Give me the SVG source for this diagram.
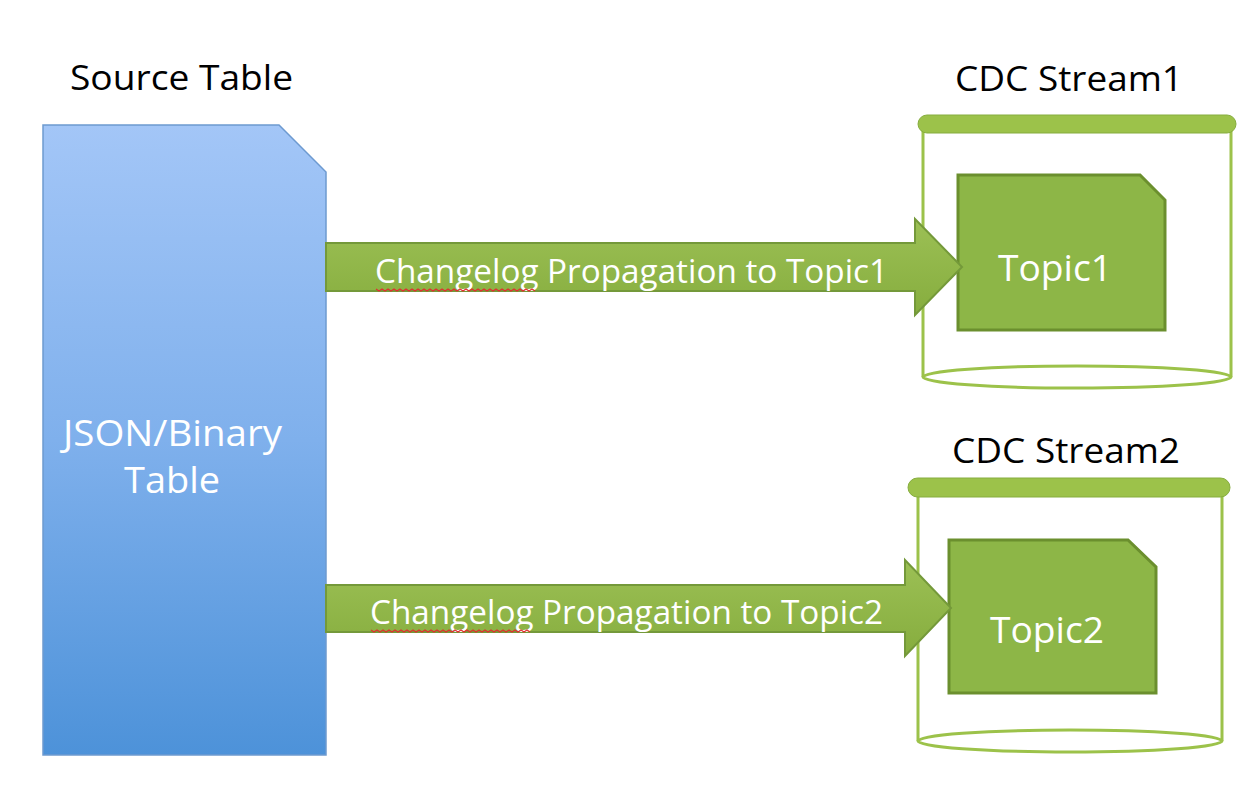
<svg xmlns="http://www.w3.org/2000/svg" width="1251" height="800" viewBox="0 0 1251 800">
<defs>
<linearGradient id="blue" x1="0" y1="0" x2="0" y2="1">
<stop offset="0" stop-color="#a3c6f7"/>
<stop offset="0.5" stop-color="#7fb0ec"/>
<stop offset="1" stop-color="#4d92d9"/>
</linearGradient>
<linearGradient id="green" x1="0" y1="0" x2="0" y2="1">
<stop offset="0" stop-color="#9cc055"/>
<stop offset="1" stop-color="#86ad3e"/>
</linearGradient>
<style>
.lbl{font-family:"Open Sans","Liberation Sans",sans-serif;fill:#000;font-size:34px}
.wt{font-family:"Open Sans","Liberation Sans",sans-serif;fill:#fff}
.arrow{fill:url(#green);stroke:#74993a;stroke-width:2}
.cyl{fill:none;stroke:#9cc24a;stroke-width:3}
.topic{fill:#8db647;stroke:#6b8f2e;stroke-width:3}
</style>
</defs>
<rect width="1251" height="800" fill="#fff"/>
<text class="lbl" x="70" y="90" textLength="223" lengthAdjust="spacingAndGlyphs">Source Table</text>
<text class="lbl" x="955" y="91" textLength="228" lengthAdjust="spacingAndGlyphs">CDC Stream1</text>
<text class="lbl" x="952" y="463" textLength="228" lengthAdjust="spacingAndGlyphs">CDC Stream2</text>

<g id="source-table">
<path d="M43,125 H279 L326,172 V755 H43 Z" fill="url(#blue)" stroke="#6d9ad0" stroke-width="1.5"/>
<text class="wt" x="63" y="446" font-size="37" textLength="219" lengthAdjust="spacingAndGlyphs">JSON/Binary</text>
<text class="wt" x="124" y="493" font-size="37" textLength="96" lengthAdjust="spacingAndGlyphs">Table</text>
</g>

<g id="cdc-stream1">
<path class="cyl" d="M923,130 V377 M1231,130 V377"/>
<ellipse cx="1077" cy="377" rx="154" ry="11" class="cyl"/>
<rect x="918" y="115" width="318" height="18" rx="9" fill="#9cc24a" stroke="#86ad3e" stroke-width="1"/>
</g>
<g id="topic1">
<path class="topic" d="M958,175 H1140 L1165,200 V330 H958 Z"/>
<text class="wt" x="998" y="281" font-size="37" textLength="114" lengthAdjust="spacingAndGlyphs">Topic1</text>
</g>

<g id="cdc-stream2">
<path class="cyl" d="M918,492 V741 M1222,492 V741"/>
<ellipse cx="1070" cy="741" rx="152" ry="11" class="cyl"/>
<rect x="908" y="478" width="322" height="19" rx="9.5" fill="#9cc24a" stroke="#86ad3e" stroke-width="1"/>
</g>
<g id="topic2">
<path class="topic" d="M949,540 H1128 L1156,567 V693 H949 Z"/>
<text class="wt" x="990" y="643" font-size="37" textLength="114" lengthAdjust="spacingAndGlyphs">Topic2</text>
</g>

<g id="connectors">
<path class="arrow" d="M326,243 H915 V219 L962,267 L915,315 V291 H326 Z"/>
<path class="arrow" d="M326,585 H905 V560 L951,608 L905,656 V632 H326 Z"/>
<text class="wt" x="375" y="283" font-size="32" textLength="513" lengthAdjust="spacingAndGlyphs">Changelog Propagation to Topic1</text>
<text class="wt" x="370" y="624" font-size="32" textLength="513" lengthAdjust="spacingAndGlyphs">Changelog Propagation to Topic2</text>
<path d="M376,289 l3,2 3,-2 3,2 3,-2 3,2 3,-2 3,2 3,-2 3,2 3,-2 3,2 3,-2 3,2 3,-2 3,2 3,-2 3,2 3,-2 3,2 3,-2 3,2 3,-2 3,2 3,-2 3,2 3,-2 3,2 3,-2 3,2 3,-2 3,2 3,-2 3,2 3,-2 3,2 3,-2 3,2 3,-2 3,2 3,-2 3,2 3,-2 3,2 3,-2 3,2 3,-2 3,2 3,-2 3,2 3,-2 3,2 3,-2 3,2" fill="none" stroke="#e03030" stroke-width="1.2"/>
<path d="M371,630 l3,2 3,-2 3,2 3,-2 3,2 3,-2 3,2 3,-2 3,2 3,-2 3,2 3,-2 3,2 3,-2 3,2 3,-2 3,2 3,-2 3,2 3,-2 3,2 3,-2 3,2 3,-2 3,2 3,-2 3,2 3,-2 3,2 3,-2 3,2 3,-2 3,2 3,-2 3,2 3,-2 3,2 3,-2 3,2 3,-2 3,2 3,-2 3,2 3,-2 3,2 3,-2 3,2 3,-2 3,2 3,-2 3,2 3,-2 3,2" fill="none" stroke="#e03030" stroke-width="1.2"/>
</g>
</svg>
